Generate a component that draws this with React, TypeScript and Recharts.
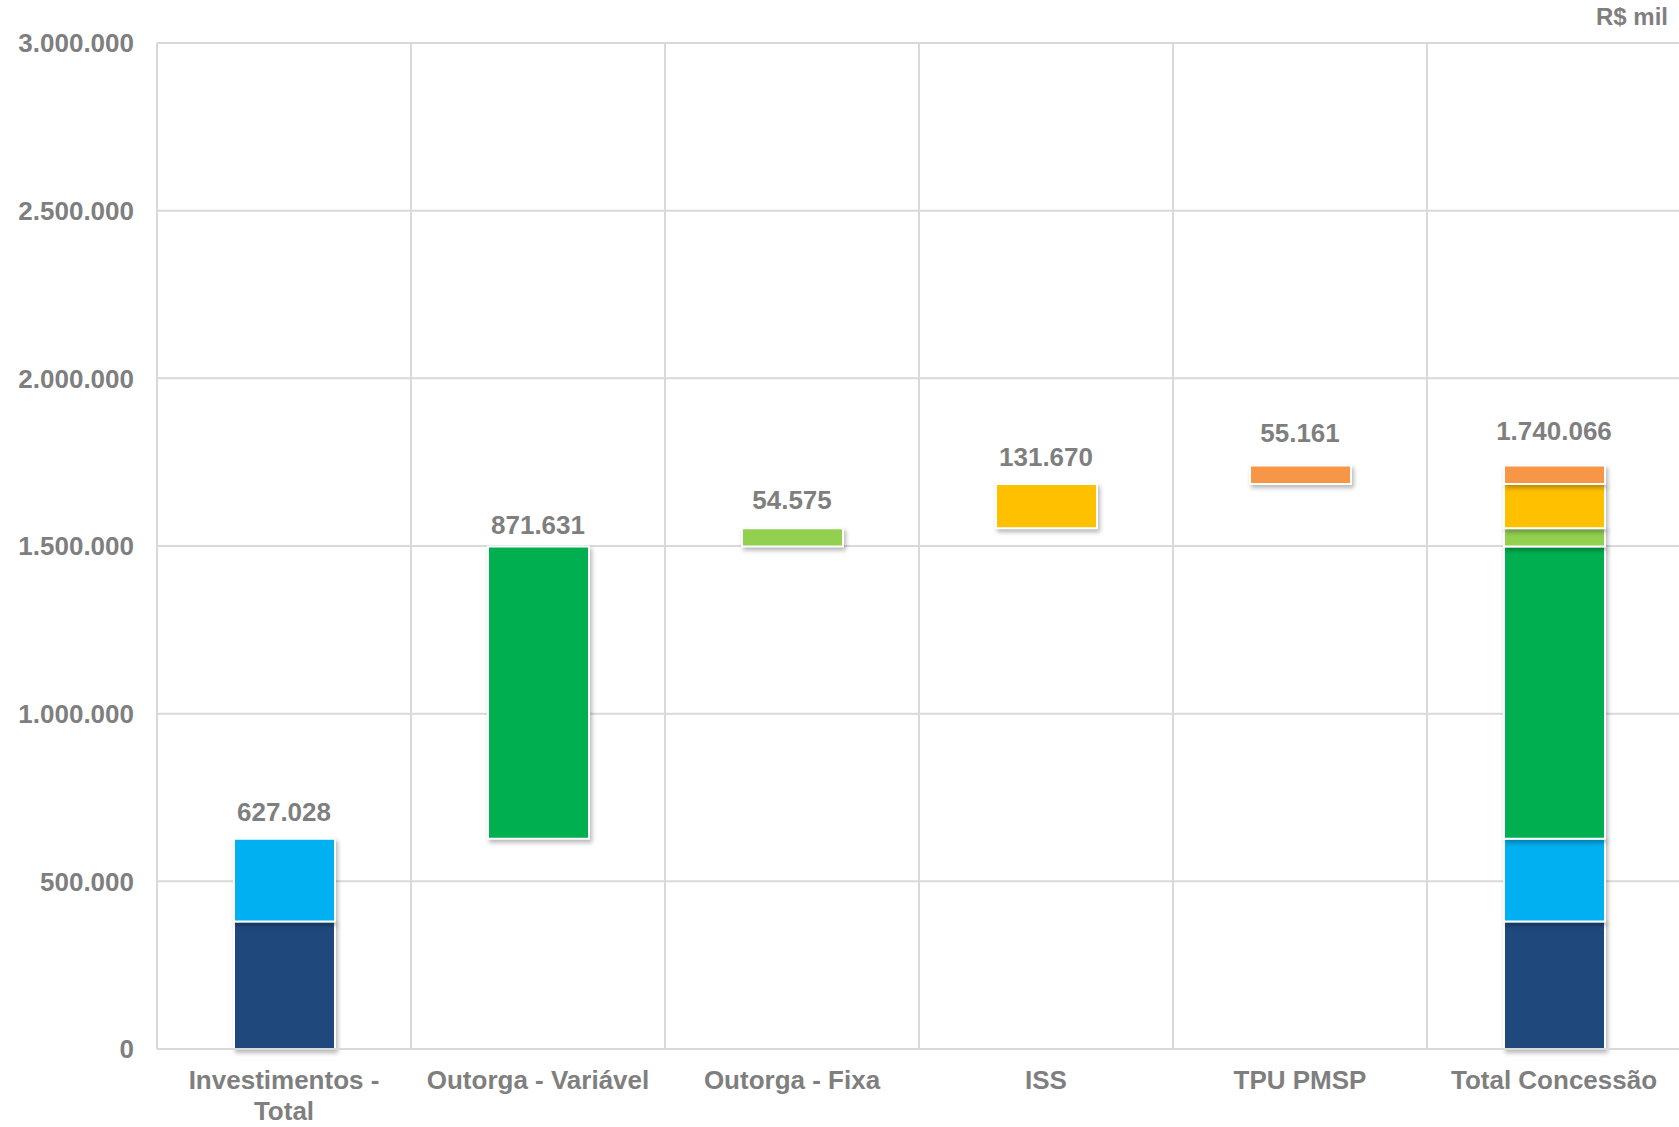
import React from "react";
import { ComposedChart, Bar, Line, XAxis, YAxis, CartesianGrid, LabelList } from "recharts";

const categories = [
  "Investimentos - Total",
  "Outorga - Variável",
  "Outorga - Fixa",
  "ISS",
  "TPU PMSP",
  "Total Concessão",
];
const investA = [380000, 0, 0, 0, 0, 380000];
const investB = [247028, 0, 0, 0, 0, 247028];
const outVar = [0, 871631, 0, 0, 0, 871631];
const outFixa = [0, 0, 54575, 0, 0, 54575];
const iss = [0, 0, 0, 131670, 0, 131670];
const tpu = [0, 0, 0, 0, 55161, 55161];
const baseVals = [0, 627028, 1498659, 1553234, 1684904, 0];
const labels = ["627.028", "871.631", "54.575", "131.670", "55.161", "1.740.066"];
const yTicks = [0, 500000, 1000000, 1500000, 2000000, 2500000, 3000000];

const seriesKeys = ["investA", "investB", "outVar", "outFixa", "iss", "tpu"];
const seriesColors = ["#1F497D", "#00B0F0", "#00B050", "#92D050", "#FFC000", "#F79646"];

const data = categories.map((c, i) => {
  const row: any = {
    name: c,
    base: baseVals[i],
    investA: investA[i],
    investB: investB[i],
    outVar: outVar[i],
    outFixa: outFixa[i],
    iss: iss[i],
    tpu: tpu[i],
    label: labels[i],
  };
  row.top =
    baseVals[i] + investA[i] + investB[i] + outVar[i] + outFixa[i] + iss[i] + tpu[i];
  return row;
});

const FONT = '"Liberation Sans", Arial, Helvetica, sans-serif';
const GREY = "#7F7F7F";
const LABEL_OFFSETS = [27, 21, 28, 27, 32, 34];

const fmt = (v: number) => String(v).replace(/\B(?=(\d{3})+(?!\d))/g, ".");

function wrap(label: string, max: number): string[] {
  const words = label.split(" ");
  const lines: string[] = [];
  let cur = "";
  words.forEach((w) => {
    const t = cur ? cur + " " + w : w;
    if (t.length > max && cur) {
      lines.push(cur);
      cur = w;
    } else cur = t;
  });
  if (cur) lines.push(cur);
  return lines;
}

const XTick = (props: any) => {
  const { x, y, payload } = props;
  const lines = wrap(payload.value, 18);
  return (
    <g>
      {lines.map((l, i) => (
        <text
          key={i}
          x={x}
          y={y + 31 + i * 31}
          textAnchor="middle"
          dominantBaseline="central"
          fontFamily={FONT}
          fontSize={26}
          fontWeight="bold"
          fill={GREY}
        >
          {l}
        </text>
      ))}
    </g>
  );
};

const TopLabel = (props: any) => {
  const { x, y, index } = props;
  const row = data[index];
  if (!row) return null;
  const off = LABEL_OFFSETS[index] ?? 27;
  return (
    <text
      x={x}
      y={y - off}
      textAnchor="middle"
      dominantBaseline="central"
      fontFamily={FONT}
      fontSize={26}
      fontWeight="bold"
      fill={GREY}
    >
      {row.label}
    </text>
  );
};

export default function App() {
  return (
    <div style={{ position: "absolute", left: 0, top: 0, width: 1679, height: 1127, background: "#fff", overflow: "hidden" }}>
      <style>{`.wf-bar path { filter: drop-shadow(2px 3px 2px rgba(0,0,0,0.28)); }`}</style>
      <div
        style={{
          position: "absolute",
          right: 11,
          top: 3,
          fontFamily: FONT,
          fontSize: 24,
          fontWeight: "bold",
          color: GREY,
          zIndex: 2,
        }}
      >
        R$ mil
      </div>
      <ComposedChart
        width={1681}
        height={1127}
        data={data}
        margin={{ top: 43, right: 0, bottom: 0, left: 0 }}
        barSize={101}
      >
        <CartesianGrid
          stroke="#D9D9D9"
          strokeWidth={2}
          verticalCoordinatesGenerator={(p: any) => {
            const off = p.offset;
            const arr: number[] = [];
            for (let i = 0; i <= 6; i++) arr.push(off.left + (i * off.width) / 6);
            return arr;
          }}
        />
        <XAxis
          dataKey="name"
          height={78}
          tick={<XTick />}
          tickLine={false}
          tickSize={0}
          tickMargin={0}
          axisLine={{ stroke: "#D9D9D9", strokeWidth: 2 }}
          interval={0}
        />
        <YAxis
          width={157}
          domain={[0, 3000000]}
          ticks={yTicks}
          tickFormatter={fmt}
          axisLine={false}
          tickLine={false}
          tickSize={0}
          tickMargin={23}
          tick={{ fontFamily: FONT, fontSize: 26, fontWeight: "bold", fill: GREY }}
        />
        <Bar dataKey="base" stackId="a" fill="transparent" isAnimationActive={false} />
        {seriesKeys.map((k, i) => (
          <Bar
            key={k}
            dataKey={k}
            stackId="a"
            fill={seriesColors[i]}
            stroke="#FFFFFF"
            strokeWidth={2}
            className="wf-bar"
            isAnimationActive={false}
          />
        ))}
        <Line
          dataKey="top"
          stroke="none"
          dot={false}
          activeDot={false}
          legendType="none"
          isAnimationActive={false}
        >
          <LabelList dataKey="label" content={<TopLabel />} />
        </Line>
      </ComposedChart>
    </div>
  );
}
